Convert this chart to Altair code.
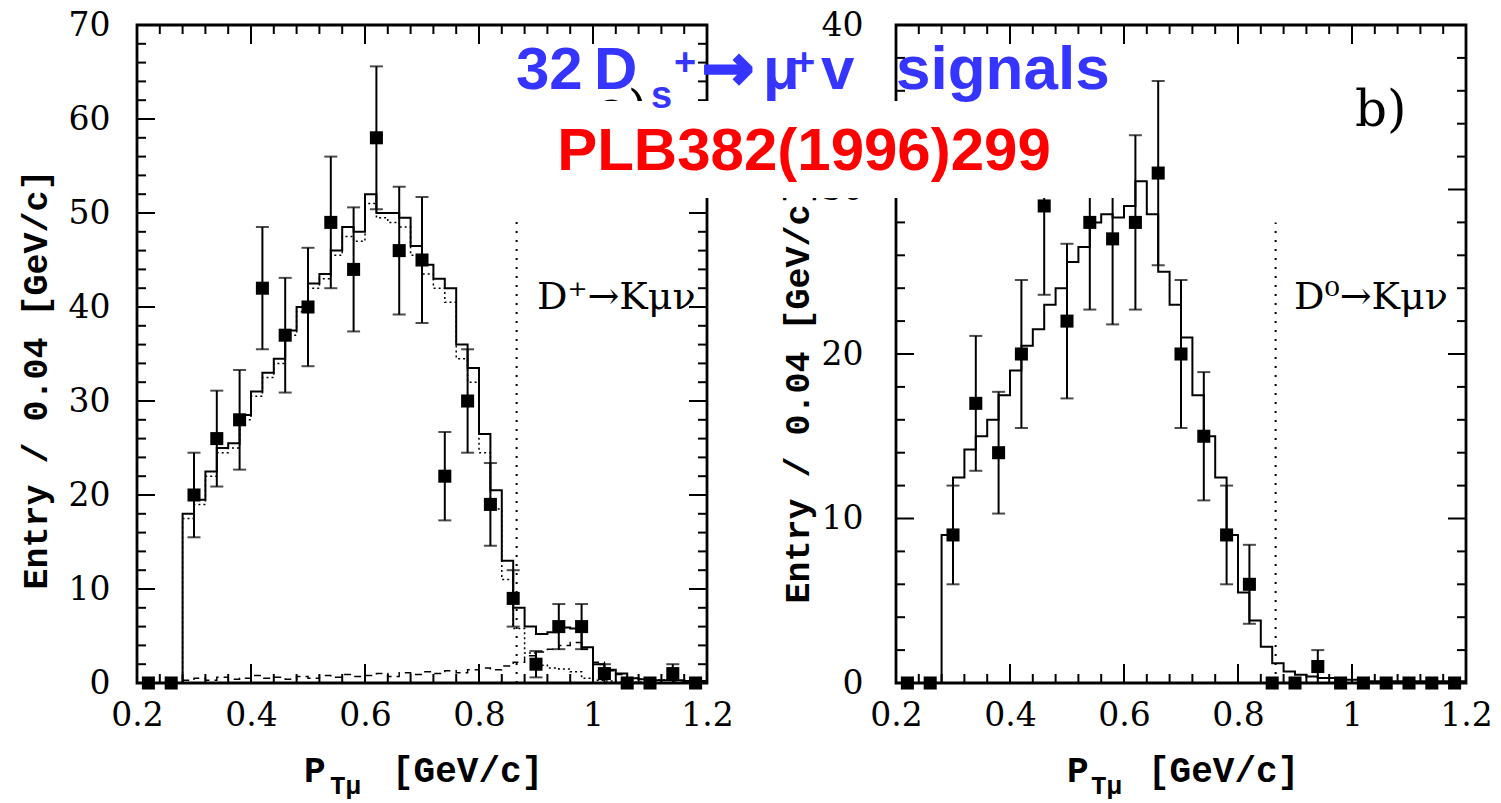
import altair as alt
import pandas as pd

# ---------------- values ----------------
PT_BINS = [0.22, 0.26, 0.30, 0.34, 0.38, 0.42, 0.46, 0.50, 0.54, 0.58, 0.62, 0.66,
           0.70, 0.74, 0.78, 0.82, 0.86, 0.90, 0.94, 0.98, 1.02, 1.06, 1.10, 1.14, 1.18]

# panel a) D+ -> K mu nu : data points and error bar ends
A_COUNTS = [0, 0, 20, 26, 28, 42, 37, 40, 49, 44, 58, 46, 45, 22, 30, 19, 9, 2, 6, 6, 1, 0, 0, 1, 0]
A_ERR_LO = [0, 0, 15.5, 20.9, 22.7, 35.5, 30.9, 33.7, 42.0, 37.4, 50.4, 39.2, 38.3, 17.3, 24.5,
            14.6, 6.0, 0.6, 3.6, 3.6, 0, 0, 0, 0, 0]
A_ERR_HI = [0, 0, 24.5, 31.1, 33.3, 48.5, 43.1, 46.3, 56.0, 50.6, 65.6, 52.8, 51.7, 26.7, 35.5,
            23.4, 12.0, 3.4, 8.4, 8.4, 2.0, 0, 0, 2.0, 0]

# panel b) D0 -> K mu nu
B_COUNTS = [0, 0, 9, 17, 14, 20, 29, 22, 28, 27, 28, 31, 20, 15, 9, 6, 0, 0, 1, 0, 0, 0, 0, 0, 0]
B_ERR_LO = [0, 0, 6.0, 12.9, 10.3, 15.5, 23.6, 17.3, 22.7, 21.8, 22.7, 25.4, 15.5, 11.1, 6.0,
            3.6, 0, 0, 0, 0, 0, 0, 0, 0, 0]
B_ERR_HI = [0, 0, 12.0, 21.1, 17.7, 24.5, 34.4, 26.7, 33.3, 32.2, 33.3, 36.6, 24.5, 18.9, 12.0,
            8.4, 0, 0, 2.0, 0, 0, 0, 0, 0, 0]

# Monte Carlo histograms (bin edges, 0.02 wide)
MC_EDGES = [0.28, 0.30, 0.32, 0.34, 0.36, 0.38, 0.40, 0.42, 0.44, 0.46, 0.48, 0.50, 0.52, 0.54,
            0.56, 0.58, 0.60, 0.62, 0.64, 0.66, 0.68, 0.70, 0.72, 0.74, 0.76, 0.78, 0.80, 0.82,
            0.84, 0.86, 0.88, 0.90, 0.92, 0.94, 0.96, 0.98, 1.00, 1.02, 1.04, 1.06, 1.08, 1.10,
            1.12, 1.14, 1.16, 1.18, 1.20]
A_MC_TOTAL = [18, 19.5, 22.5, 25, 25.5, 28.5, 31, 33, 34.5, 37.5, 40, 42.5, 43.5, 46, 48.5,
              48, 52, 50, 50, 49.5, 46.5, 44.5, 43, 42, 36, 33.5, 26.5, 20.5, 13, 8,
              6, 5.2, 5.4, 5.9, 5.8, 3.8, 2.0, 1.4, 1.0, 0.5, 0.4, 0.3, 0.3, 0.3, 0.2, 0.2]
A_MC_SIGNAL = [17.5, 19, 22, 24.5, 25, 28, 30.5, 32.5, 34, 37, 39.5, 42, 43, 45.5, 47.5,
               47, 51, 49.5, 49, 48.5, 45.5, 43.5, 42, 40.5, 34.5, 32, 24.5, 18.5, 11, 5.8,
               3.2, 1.9, 1.6, 1.5, 1.2, 0.5, 0.3, 0.2, 0.1, 0.1, 0.1, 0, 0, 0, 0, 0]
A_MC_BKG = [0.3, 0.5, 0.3, 0.6, 0.4, 0.5, 0.8, 0.5, 0.6, 0.4, 0.7, 0.5, 0.8, 0.6, 0.9,
            0.7, 0.8, 1.0, 0.7, 1.1, 0.9, 1.2, 1.0, 1.3, 1.1, 1.4, 1.6, 1.4, 1.8, 2.2,
            2.9, 3.3, 3.6, 4.0, 4.3, 3.6, 2.2, 1.3, 0.9, 0.5, 0.4, 0.3, 0.3, 0.2, 0.2, 0.1]
B_MC_TOTAL = [9, 12.5, 14.2, 15, 16, 17.5, 19, 20.5, 21.5, 23, 24, 25.6, 26.5, 28, 28.5,
              28.3, 29, 30.5, 28.5, 25, 23, 21, 17.5, 15, 12.5, 9, 5.5, 3.8, 2.2, 1.2,
              0.7, 0.5, 0.4, 0.3, 0.3, 0.2, 0.2, 0.1, 0.1, 0.1, 0.1, 0.1, 0.1, 0.1, 0.1, 0.1]

CUT_X = 0.866
A_CUT_TOP = 49.5
B_CUT_TOP = 28

X_LABELS = [0.2, 0.4, 0.6, 0.8, 1.0, 1.2]
A_Y_LABELS = [0, 10, 20, 30, 40, 50, 60, 70]
B_Y_LABELS = [0, 10, 20, 30, 40]

Y_TITLE = "Entry / 0.04 [GeV/c]"

# ---------------- helpers ----------------
W, H = 570, 658
XS = alt.Scale(domain=[0.2, 1.2], nice=False, zero=False)
SERIF = "DejaVu Serif"
MONO = "Liberation Mono"


def hist_df(vals):
    return pd.DataFrame({"x": [0.2] + MC_EDGES, "y": [0] + vals + [vals[-1]]})


def text(t, x, y, size, font=SERIF, color="black", weight="normal", align="left", stroke_w=0):
    kw = {"stroke": color, "strokeWidth": stroke_w} if stroke_w else {}
    return alt.Chart(pd.DataFrame({"t": [t]})).mark_text(
        align=align, baseline="alphabetic", font=font, fontSize=size,
        fontWeight=weight, color=color, **kw
    ).encode(x=alt.value(x), y=alt.value(y), text="t:N")


def panel(counts, lo, hi, mc_series, ymax, ylabels, cut_top, title_x, title_y, label_pad,
          extra_after):
    ys = alt.Scale(domain=[0, ymax], nice=False, zero=False)
    xaxis = alt.Axis(values=X_LABELS, format="~g", ticks=False, domain=False, grid=False,
                     labelFont=SERIF, labelFontSize=33, labelColor="black", labelPadding=16,
                     labelOverlap=False, labelFlush=False, title=None)
    yaxis = alt.Axis(values=ylabels, ticks=False, domain=False, grid=False,
                     labelFont=SERIF, labelFontSize=33, labelColor="black",
                     labelPadding=label_pad, labelOverlap=False, labelFlush=False,
                     title=Y_TITLE, titleFont=MONO, titleFontSize=35,
                     titleFontWeight="bold", titleColor="black", titleX=title_x,
                     titleY=title_y, titleAngle=270, titleAlign="center",
                     titleBaseline="middle")

    def X(f):
        return alt.X(f, scale=XS, axis=xaxis)

    def Y(f):
        return alt.Y(f, scale=ys, axis=yaxis)

    frame = alt.Chart(pd.DataFrame({"x0": [0.2], "x1": [1.2], "y0": [0], "y1": [ymax]})).mark_rect(
        fillOpacity=0, stroke="black", strokeWidth=2.8
    ).encode(x=X("x0:Q"), x2="x1:Q", y=Y("y0:Q"), y2="y1:Q")
    layers = [frame]

    # inward ticks on all four sides
    xminor = [round(0.2 + 0.04 * i, 2) for i in range(1, 25) if i % 5 != 0]
    xmajor = [0.4, 0.6, 0.8, 1.0]
    yminor = [v for v in range(2, ymax, 2) if v % 10 != 0]
    ymajor = [v for v in range(10, ymax, 10)]
    for vals, ln in ((xminor, 9), (xmajor, 19)):
        base = alt.Chart(pd.DataFrame({"v": vals})).mark_rule(color="black", strokeWidth=2)
        layers.append(base.encode(x=X("v:Q"), y=alt.value(H), y2=alt.value(H - ln)))
        layers.append(base.encode(x=X("v:Q"), y=alt.value(0), y2=alt.value(ln)))
    for vals, ln in ((yminor, 9), (ymajor, 18)):
        base = alt.Chart(pd.DataFrame({"v": vals})).mark_rule(color="black", strokeWidth=2)
        layers.append(base.encode(y=Y("v:Q"), x=alt.value(0), x2=alt.value(ln)))
        layers.append(base.encode(y=Y("v:Q"), x=alt.value(W), x2=alt.value(W - ln)))

    for vals, dash, width in mc_series:
        kw = {"strokeDash": dash} if dash else {}
        layers.append(alt.Chart(hist_df(vals)).mark_line(
            interpolate="step-after", color="black", strokeWidth=width, **kw
        ).encode(x=X("x:Q"), y=Y("y:Q")))

    cut = pd.DataFrame({"x": [CUT_X], "y0": [0], "y1": [cut_top]})
    layers.append(alt.Chart(cut).mark_rule(color="black", strokeWidth=2, strokeDash=[2, 7]).encode(
        x=X("x:Q"), y=Y("y0:Q"), y2="y1:Q"))

    pts = pd.DataFrame({"x": PT_BINS, "n": counts, "lo": lo, "hi": hi})
    err = pts[pts["hi"] > 0]
    layers.append(alt.Chart(err).mark_rule(color="black", strokeWidth=2).encode(
        x=X("x:Q"), y=Y("lo:Q"), y2="hi:Q"))
    layers.append(alt.Chart(err).mark_tick(orient="horizontal", size=13, thickness=2,
                                           color="black").encode(x=X("x:Q"), y=Y("hi:Q")))
    layers.append(alt.Chart(err[err["lo"] > 0]).mark_tick(orient="horizontal", size=13,
                                                          thickness=2, color="black").encode(
        x=X("x:Q"), y=Y("lo:Q")))
    layers.append(alt.Chart(pts).mark_square(size=170, color="black", opacity=1).encode(
        x=X("x:Q"), y=Y("n:Q")))

    return alt.layer(*(layers + extra_after)).properties(width=W, height=H)


# ---------------- panel a ----------------
left_extra = [
    text("a)", 461, 101, 50),
    text("D\u207a\u2192K\u03bc\u03bd", 400, 284, 38),
    text("P", 167, 757, 36, font=MONO, weight="bold"),
    text("T\u03bc", 193, 769, 26, font=MONO, weight="bold"),
    text("[GeV/c]", 255, 757, 36, font=MONO, weight="bold"),
]
left = panel(A_COUNTS, A_ERR_LO, A_ERR_HI,
             [(A_MC_TOTAL, None, 2), (A_MC_SIGNAL, [2, 3], 1.5), (A_MC_BKG, [7, 5], 1.5)],
             70, A_Y_LABELS, A_CUT_TOP, -102, 354, 27, left_extra)

# ---------------- panel b (also carries the overlay title) ----------------
BLUE = "#3535FF"
RED = "#FF0000"
SANS = "Liberation Sans"
box = alt.Chart(pd.DataFrame({"t": [0]})).mark_rect(color="white", opacity=1).encode(
    x=alt.value(-391), x2=alt.value(226), y=alt.value(76), y2=alt.value(173))
right_extra = [
    text("b)", 459, 101, 50),
    text("D\u2070\u2192K\u03bc\u03bd", 398, 284, 38),
    text("P", 171, 757, 36, font=MONO, weight="bold"),
    text("T\u03bc", 195, 769, 26, font=MONO, weight="bold"),
    text("[GeV/c]", 252, 757, 36, font=MONO, weight="bold"),
    box,
    text("32", -380, 64, 60, font=SANS, color=BLUE, weight="bold"),
    text("D", -302, 64, 60, font=SANS, color=BLUE, weight="bold"),
    text("s", -245, 83, 38, font=SANS, color=BLUE, weight="bold"),
    text("+", -222, 50, 38, font=SANS, color=BLUE, weight="bold"),
    text("\u2192", -194, 64, 62, font="DejaVu Sans", color=BLUE, weight="bold", stroke_w=3),
    text("\u03bc", -133, 64, 60, font=SANS, color=BLUE, weight="bold"),
    text("+", -103, 50, 38, font=SANS, color=BLUE, weight="bold"),
    text("v", -75, 64, 60, font=SANS, color=BLUE, weight="bold"),
    text("signals", 0, 64, 62, font=SANS, color=BLUE, weight="bold"),
    text("PLB382(1996)299", -92, 145, 60, font=SANS, color=RED, weight="bold", align="center"),
]
right = panel(B_COUNTS, B_ERR_LO, B_ERR_HI, [(B_MC_TOTAL, None, 2)],
              40, B_Y_LABELS, B_CUT_TOP, -99, 368, 33, right_extra)

chart = alt.hconcat(left, right, spacing=189, bounds="flush").properties(
    padding={"left": 17, "top": 8, "right": 5, "bottom": 5},
    background="white",
).configure_view(stroke="transparent")

chart.save("out.html", embed_options={"renderer": "svg", "actions": False})
